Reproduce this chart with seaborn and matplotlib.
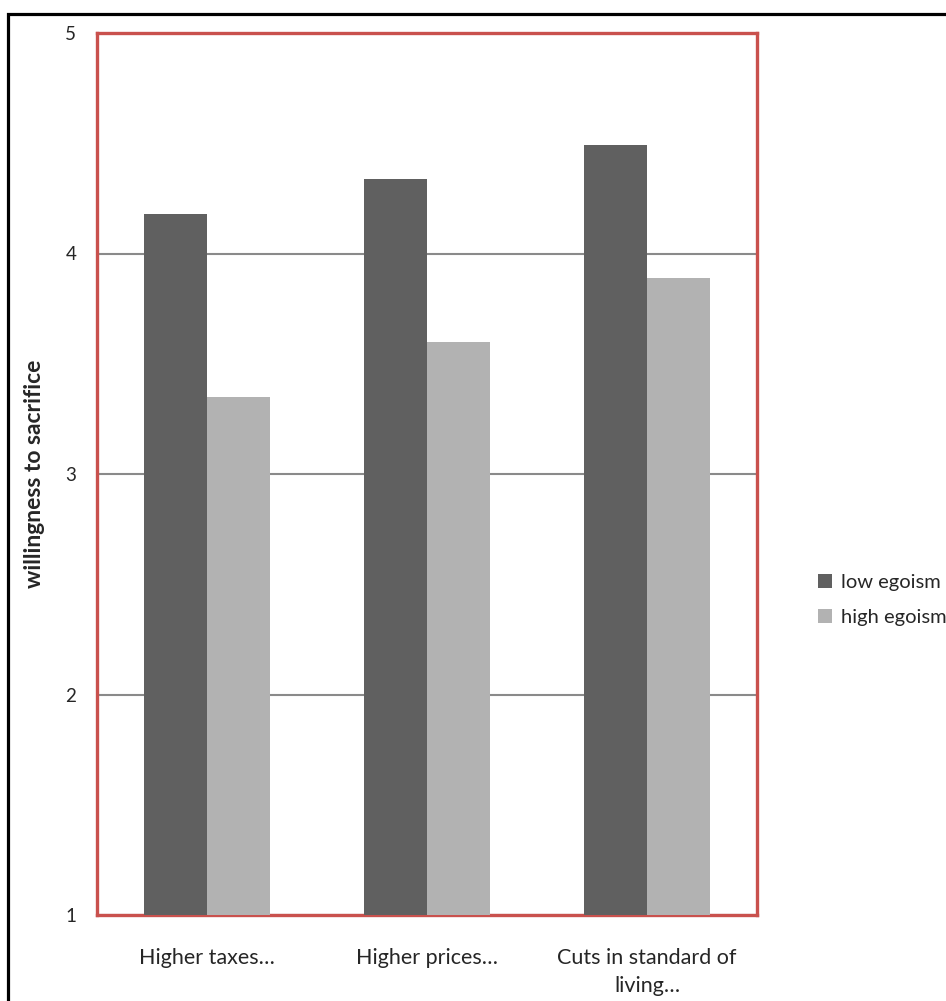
import matplotlib
matplotlib.use("Agg")
import matplotlib.pyplot as plt
import seaborn as sns
import pandas as pd
from matplotlib.patches import Rectangle

categories = ["Higher taxes…", "Higher prices…", "Cuts in standard of\nliving…"]
groups = ["low egoism", "high egoism"]
low_egoism = [4.18, 4.34, 4.49]
high_egoism = [3.35, 3.60, 3.89]
yticks = [1, 2, 3, 4, 5]

df = pd.DataFrame({
    "category": categories * 2,
    "group": [groups[0]] * 3 + [groups[1]] * 3,
    "value": low_egoism + high_egoism,
})

sns.set_theme(style="white")
plt.rcParams["font.family"] = ["Lato", "DejaVu Sans"]

fig = plt.figure(figsize=(9.46, 10.01), dpi=100)
ax = fig.add_axes([97/946, 1-915/1001, (757-97)/946, (915-33)/1001])

sns.barplot(data=df, x="category", y="value", hue="group",
            palette=["#606060", "#b2b2b2"], width=0.573, gap=0,
            saturation=1, ax=ax, zorder=3, linewidth=0)

ax.set_ylim(1, 5)
ax.set_yticks(yticks)
ax.set_yticklabels([str(t) for t in yticks], fontsize=13.5)
ax.tick_params(axis="y", length=0, pad=15)
ax.tick_params(axis="x", length=0, pad=24, labelsize=15.5)
for lbl in ax.get_xticklabels():
    lbl.set_linespacing(1.45)
ax.yaxis.grid(True, color="#8a8a8a", linewidth=1.5, zorder=1)
ax.set_axisbelow(True)
ax.set_xlabel("")
ax.set_ylabel("willingness to sacrifice", fontsize=16.5, fontweight="bold")
ax.yaxis.set_label_coords(-0.079, 0.5)
for s in ax.spines.values():
    s.set_visible(True)
    s.set_color("#c9514d")
    s.set_linewidth(2.4)

ax.legend(frameon=False, loc="center left", bbox_to_anchor=(810/946, 1-600/1001),
          bbox_transform=fig.transFigure, fontsize=14.5, handlelength=0.7,
          handleheight=0.7, handletextpad=0.45, labelspacing=0.85, borderaxespad=0)

fig.patches.append(Rectangle((8/946, -0.1), 1.2, 1-14/1001+0.1, transform=fig.transFigure,
                             fill=False, edgecolor="black", linewidth=2.3, zorder=0))

fig.savefig("out.png", dpi=100)
